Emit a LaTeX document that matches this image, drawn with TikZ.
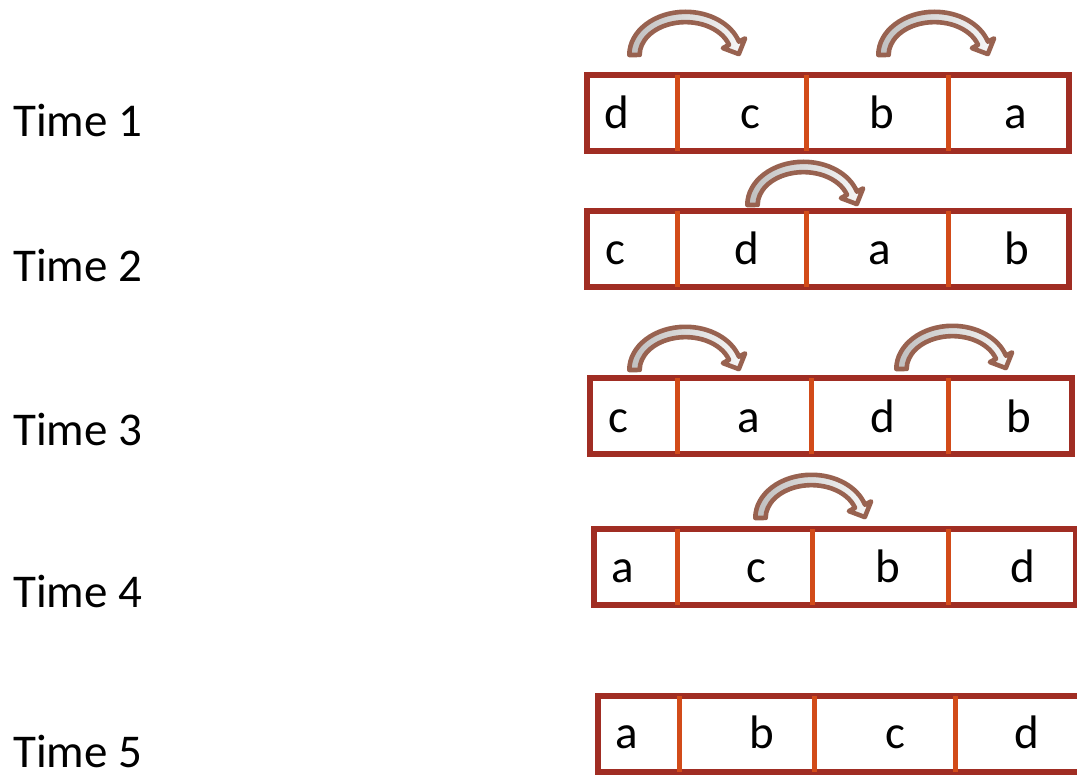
\documentclass[tikz,border=0pt]{standalone}
\usepackage{fontspec}
\setmainfont{Carlito}
\definecolor{boxred}{RGB}{160,45,35}
\definecolor{divorange}{RGB}{210,75,25}
\definecolor{arrowbrown}{RGB}{152,98,80}
\tikzset{
  rowbox/.style={draw=boxred, line width=6pt, fill=white, rectangle, inner sep=0pt,
    outer sep=0pt, anchor=north west, minimum width=482pt, minimum height=76pt},
  divider/.style={draw=divorange, line width=5pt},
  cell/.style={anchor=base, inner sep=0pt, font=\fontsize{47}{56}\selectfont},
  timelabel/.style={anchor=base west, inner sep=0pt, font=\fontsize{47}{56}\selectfont},
  arrowshape/.style={draw=arrowbrown, line width=4.6pt, line join=round,
    left color=black!25, right color=black!3},
  swaparrow/.pic={
    \begin{scope}[yscale=-1]
      \path[arrowshape] (-56.2,0)
        arc[start angle=180, end angle=18, x radius=56.2, y radius=43.2]
        -- (59.6,16.6) -- (53.3,0.9) -- (37.4,6.9) -- (43.5,10.2)
        arc[start angle=18, end angle=180, x radius=45.8, y radius=32.8]
        -- cycle;
    \end{scope}
  }
}
\begin{document}
\begin{tikzpicture}[x=1pt, y=-1pt]
\useasboundingbox (0,0) rectangle (1077,778);
\clip (0,0) rectangle (1077,778);

% time labels
\node[timelabel] (t1) at (13,137) {Time 1};
\node[timelabel] (t2) at (13,282) {Time 2};
\node[timelabel] (t3) at (13,445) {Time 3};
\node[timelabel] (t4) at (13,607) {Time 4};
\node[timelabel] (t5) at (13,767) {Time 5};

% row boxes
\node[rowbox] (r1) at (587,75) {};
\node[rowbox] (r2) at (587,211) {};
\node[rowbox] (r3) at (590,378) {};
\node[rowbox] (r4) at (594,529) {};
\node[rowbox] (r5) at (598,696) {};

% dividers
\foreach \x in {677,806,948} \draw[divider] (\x,75) -- (\x,151);
\foreach \x in {677,806,948} \draw[divider] (\x,211) -- (\x,287);
\foreach \x in {677,811,948} \draw[divider] (\x,378) -- (\x,454);
\foreach \x in {677,812,948} \draw[divider] (\x,529) -- (\x,605);
\foreach \x in {679,814,955} \draw[divider] (\x,696) -- (\x,772);

% cell letters
\node[cell] (r1c1) at (617,129) {d};
\node[cell] (r1c2) at (750,129) {c};
\node[cell] (r1c3) at (882,129) {b};
\node[cell] (r1c4) at (1016,129) {a};

\node[cell] (r2c1) at (615,265) {c};
\node[cell] (r2c2) at (747,265) {d};
\node[cell] (r2c3) at (880,265) {a};
\node[cell] (r2c4) at (1017,265) {b};

\node[cell] (r3c1) at (618,432) {c};
\node[cell] (r3c2) at (749,432) {a};
\node[cell] (r3c3) at (883,432) {d};
\node[cell] (r3c4) at (1019,432) {b};

\node[cell] (r4c1) at (623,582) {a};
\node[cell] (r4c2) at (756,582) {c};
\node[cell] (r4c3) at (888,582) {b};
\node[cell] (r4c4) at (1023,582) {d};

\node[cell] (r5c1) at (627,748) {a};
\node[cell] (r5c2) at (762,748) {b};
\node[cell] (r5c3) at (895,748) {c};
\node[cell] (r5c4) at (1027,748) {d};

% swap arrows
\pic at (685.5,55) {swaparrow};
\pic at (934.5,55) {swaparrow};
\pic at (803.5,205) {swaparrow};
\pic at (685.5,370) {swaparrow};
\pic at (952.5,369) {swaparrow};
\pic at (811.5,518) {swaparrow};
\end{tikzpicture}
\end{document}
